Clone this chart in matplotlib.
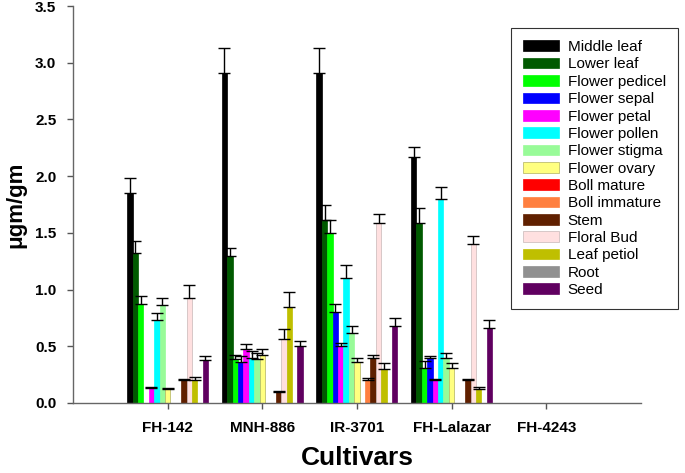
import numpy as np
import matplotlib
matplotlib.use("Agg")
import matplotlib.pyplot as plt

plt.rcParams["font.family"] = ["Liberation Sans", "DejaVu Sans"]

cultivars = ["FH-142", "MNH-886", "IR-3701", "FH-Lalazar", "FH-4243"]
parts = ["Middle leaf", "Lower leaf", "Flower pedicel", "Flower sepal", "Flower petal",
         "Flower pollen", "Flower stigma", "Flower ovary", "Boll mature", "Boll immature",
         "Stem", "Floral Bud", "Leaf petiol", "Root", "Seed"]
colors = ["#000000", "#005a00", "#00ff00", "#0000ff", "#ff00ff",
          "#00ffff", "#98fb98", "#ffff80", "#ff0000", "#ff7f3f",
          "#602000", "#ffe0e0", "#bfbf00", "#909090", "#600060"]

# values per part, one entry per cultivar
middle_leaf = [1.85, 2.91, 2.91, 2.17, 0]
lower_leaf = [1.32, 1.30, 1.61, 1.59, 0]
pedicel = [0.87, 0.39, 1.50, 0.31, 0]
sepal = [0, 0.36, 0.80, 0.40, 0]
petal = [0.13, 0.48, 0.50, 0.20, 0]
pollen = [0.73, 0.40, 1.10, 1.80, 0]
stigma = [0.86, 0.39, 0.62, 0.40, 0]
ovary = [0.12, 0.42, 0.36, 0.31, 0]
boll_mature = [0, 0, 0, 0, 0]
boll_immature = [0, 0, 0.20, 0, 0]
stem = [0.20, 0.10, 0.40, 0.20, 0]
floral_bud = [0.93, 0.56, 1.59, 1.40, 0]
leaf_petiol = [0.20, 0.85, 0.30, 0.12, 0]
root = [0, 0, 0, 0, 0]
seed = [0.38, 0.50, 0.68, 0.66, 0]

# standard errors
middle_leaf_err = [0.13, 0.22, 0.22, 0.09, 0]
lower_leaf_err = [0.11, 0.07, 0.14, 0.13, 0]
pedicel_err = [0.07, 0.03, 0.11, 0.06, 0]
sepal_err = [0, 0.05, 0.07, 0.01, 0]
petal_err = [0.015, 0.04, 0.03, 0.01, 0]
pollen_err = [0.06, 0.06, 0.12, 0.10, 0]
stigma_err = [0.07, 0.05, 0.06, 0.04, 0]
ovary_err = [0.01, 0.06, 0.04, 0.04, 0]
boll_mature_err = [0, 0, 0, 0, 0]
boll_immature_err = [0, 0, 0.02, 0, 0]
stem_err = [0.015, 0.01, 0.02, 0.01, 0]
floral_bud_err = [0.11, 0.09, 0.08, 0.07, 0]
leaf_petiol_err = [0.03, 0.13, 0.05, 0.02, 0]
root_err = [0, 0, 0, 0, 0]
seed_err = [0.03, 0.05, 0.07, 0.07, 0]

values = [middle_leaf, lower_leaf, pedicel, sepal, petal, pollen, stigma, ovary,
          boll_mature, boll_immature, stem, floral_bud, leaf_petiol, root, seed]
errors = [middle_leaf_err, lower_leaf_err, pedicel_err, sepal_err, petal_err,
          pollen_err, stigma_err, ovary_err, boll_mature_err, boll_immature_err,
          stem_err, floral_bud_err, leaf_petiol_err, root_err, seed_err]

fig = plt.figure(figsize=(6.85, 4.73), dpi=100)
ax = fig.add_axes([0.1066, 0.148, 0.829, 0.8393])

x = np.arange(len(cultivars))
w = 0.0571
for j, (name, col, v, e) in enumerate(zip(parts, colors, values, errors)):
    pos = x + (j - 7) * w
    v = np.array(v)
    e = np.array(e)
    ec = "#c8b8b8" if name == "Floral Bud" else ("#b0b060" if name == "Flower ovary" else col)
    ax.bar(pos, v, width=w, color=col, edgecolor=ec, linewidth=0.5, label=name, zorder=2)
    m = v > 0
    if m.any():
        ax.errorbar(pos[m], v[m], yerr=[np.zeros(m.sum()), e[m]], fmt="none",
                    ecolor="black", elinewidth=1, capsize=4, capthick=1, zorder=3)

ax.set_xlim(-1, 5)
ax.set_ylim(0, 3.5)
ax.set_xticks(x)
ax.set_xticklabels(cultivars, fontsize=11, fontweight="bold")
yt = np.arange(0, 3.51, 0.5)
ax.set_yticks(yt)
ax.set_yticklabels([f"{t:.1f}" for t in yt], fontsize=11, fontweight="bold")
ax.tick_params(direction="out", length=4, width=1, color="#555555", pad=8)
ax.tick_params(axis="x", pad=9)
for s in ["top", "right"]:
    ax.spines[s].set_visible(False)
for s in ["left", "bottom"]:
    ax.spines[s].set_color("#666666")
    ax.spines[s].set_linewidth(1)

ax.set_ylabel("μgm/gm", fontsize=16, fontweight="bold", labelpad=6)
ax.set_xlabel("Cultivars", fontsize=19, fontweight="bold", labelpad=8)

leg = ax.legend(loc="upper right", bbox_to_anchor=(0.990, 0.941),
                bbox_transform=fig.transFigure, borderaxespad=0, fontsize=11,
                frameon=True, fancybox=False, edgecolor="black", handlelength=2.3,
                handleheight=0.7, labelspacing=0.22, borderpad=0.8,
                handletextpad=0.6)
leg.get_frame().set_linewidth(0.8)

fig.savefig("out.png", dpi=100)
